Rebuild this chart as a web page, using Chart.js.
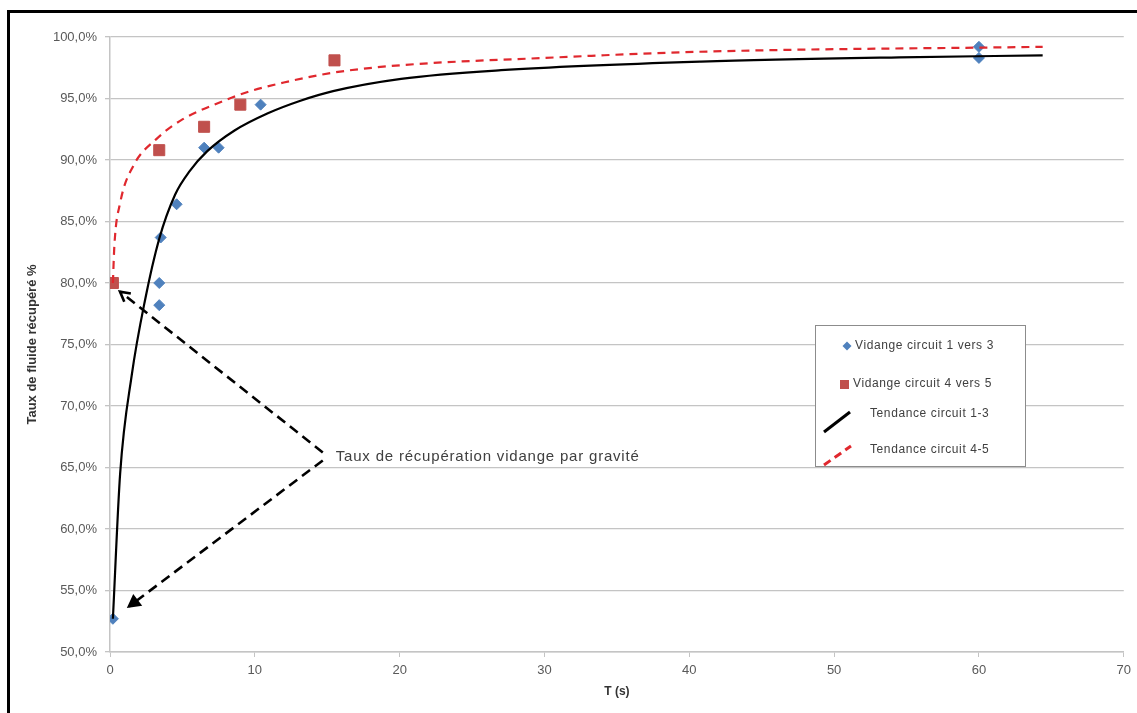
<!DOCTYPE html>
<html>
<head>
<meta charset="utf-8">
<title>Taux de récupération</title>
<script src="https://cdn.jsdelivr.net/npm/chart.js@4.4.0/dist/chart.umd.min.js"></script>
<style>
    body { margin: 0; background: #fff; }
    #wrap { position: relative; width: 1137px; height: 713px; }
</style>
</head>
<body>
<div id="wrap"><canvas id="recupChart" width="1137" height="713"></canvas></div>
<script>
// measured points (T in s, rate in %)
const circuit13T    = [0.2, 3.4, 3.4, 3.5, 4.6, 6.5, 7.5, 10.4, 60, 60];
const circuit13Rate = [52.7, 78.2, 80.0, 83.7, 86.4, 91.0, 91.0, 94.5, 99.2, 98.3];

const circuit45T    = [0.2, 3.4, 6.5, 9.0, 15.5];
const circuit45Rate = [80.0, 90.8, 92.7, 94.5, 98.1];

// trend curves
const trend13T    = [0.2, 0.7, 1.5, 2.4, 3.4, 4.5, 5.5, 6.7, 8.6, 10.9, 13.1, 15.4, 20.1, 27, 40.8, 54.5, 64.4];
const trend13Rate = [52.7, 64.5, 72.5, 78.5, 83.6, 87.2, 89.1, 90.7, 92.4, 93.8, 94.8, 95.6, 96.6, 97.3, 98.0, 98.35, 98.5];

const trend45T    = [0.2, 0.3, 0.7, 1.6, 3.2, 5.0, 7.4, 9.7, 12, 15.4, 20, 30, 40.7, 64.4];
const trend45Rate = [80.0, 83.0, 86.5, 89.5, 91.7, 93.3, 94.6, 95.6, 96.3, 97.1, 97.7, 98.3, 98.8, 99.2];

const legendLabels = ["Vidange circuit 1 vers 3", "Vidange circuit 4 vers 5", "Tendance circuit 1-3", "Tendance circuit 4-5"];
const annotationText = "Taux de récupération vidange par gravité";
const xTitle = "T (s)";
const yTitle = "Taux de fluide récupéré %";

const BLUE = "#4f81bd", RED = "#c0504d", TREND_RED = "#e0282e";
const GRID = "#c4c4c4", LABEL = "#595959";

const toXY = (xs, ys) => xs.map((x, i) => ({ x: x, y: ys[i] }));

Chart.defaults.font.family = "'Liberation Sans', Arial, sans-serif";

// black frame (top + left) like the scanned figure
const framePlugin = {
    id: "frame",
    afterDraw(chart) {
        const ctx = chart.ctx;
        ctx.save();
        ctx.fillStyle = "#000";
        ctx.fillRect(7, 10, 3, 713);
        ctx.fillRect(7, 10, 1130, 3);
        ctx.restore();
    }
};

function arrow(ctx, x1, y1, x2, y2, filled) {
    ctx.save();
    ctx.strokeStyle = "#000";
    ctx.fillStyle = "#000";
    ctx.lineWidth = 2.6;
    ctx.setLineDash([10, 6]);
    ctx.beginPath();
    ctx.moveTo(x1, y1);
    ctx.lineTo(x2, y2);
    ctx.stroke();
    ctx.setLineDash([]);
    const a = Math.atan2(y2 - y1, x2 - x1);
    const len = 11;
    ctx.beginPath();
    ctx.moveTo(x2 - len * Math.cos(a - 0.5), y2 - len * Math.sin(a - 0.5));
    ctx.lineTo(x2, y2);
    ctx.lineTo(x2 - len * Math.cos(a + 0.5), y2 - len * Math.sin(a + 0.5));
    if (filled) { ctx.closePath(); ctx.fill(); }
    ctx.stroke();
    ctx.restore();
}

// the "Taux de récupération..." callout with its two dashed arrows
const annotationPlugin = {
    id: "callout",
    afterDatasetsDraw(chart) {
        const { ctx, scales: { x, y } } = chart;
        const vx = x.getPixelForValue(14.83), vy = y.getPixelForValue(65.9);
        arrow(ctx, vx - 2, vy - 4, x.getPixelForValue(0.69), y.getPixelForValue(79.3), false);
        arrow(ctx, vx - 2, vy + 4, x.getPixelForValue(1.31), y.getPixelForValue(53.7), true);
        ctx.save();
        ctx.fillStyle = "#404040";
        ctx.font = "15px 'Liberation Sans', Arial, sans-serif";
        ctx.letterSpacing = "0.8px";
        ctx.textBaseline = "middle";
        ctx.fillText(annotationText, vx + 11, vy);
        ctx.restore();
    }
};

// Excel-like legend box inside the plot
const legendPlugin = {
    id: "excelLegend",
    afterDraw(chart) {
        const ctx = chart.ctx;
        ctx.save();
        ctx.fillStyle = "#fff";
        ctx.fillRect(815, 325, 210, 141);
        ctx.strokeStyle = "#8c8c8c";
        ctx.lineWidth = 1;
        ctx.strokeRect(815.5, 325.5, 210, 141);

        Chart.helpers.drawPoint(ctx, { pointStyle: "rectRot", radius: 4.5, rotation: 0 }, 847, 346);
        ctx.fillStyle = BLUE;
        ctx.fill();
        ctx.fillStyle = RED;
        ctx.fillRect(840, 380, 9, 9);

        ctx.strokeStyle = "#000";
        ctx.lineWidth = 3;
        ctx.beginPath(); ctx.moveTo(824, 432); ctx.lineTo(850, 412); ctx.stroke();
        ctx.strokeStyle = TREND_RED;
        ctx.setLineDash([8, 5]);
        ctx.beginPath(); ctx.moveTo(824, 465); ctx.lineTo(851, 446); ctx.stroke();
        ctx.setLineDash([]);

        ctx.fillStyle = "#404040";
        ctx.font = "12px 'Liberation Sans', Arial, sans-serif";
        ctx.letterSpacing = "0.6px";
        ctx.textBaseline = "middle";
        ctx.fillText(legendLabels[0], 855, 346);
        ctx.fillText(legendLabels[1], 853, 384);
        ctx.fillText(legendLabels[2], 870, 414);
        ctx.fillText(legendLabels[3], 870, 450);
        ctx.restore();
    }
};

new Chart(document.getElementById("recupChart"), {
    type: "scatter",
    data: {
        datasets: [
            {
                label: legendLabels[2],
                data: toXY(trend13T, trend13Rate),
                showLine: true,
                borderColor: "#000",
                borderWidth: 2.2,
                pointRadius: 0,
                cubicInterpolationMode: "monotone",
                order: 0
            },
            {
                label: legendLabels[3],
                data: toXY(trend45T, trend45Rate),
                showLine: true,
                borderColor: TREND_RED,
                borderWidth: 2.2,
                borderDash: [8, 6],
                pointRadius: 0,
                cubicInterpolationMode: "monotone",
                order: 0
            },
            {
                label: legendLabels[0],
                data: toXY(circuit13T, circuit13Rate),
                pointStyle: "rectRot",
                pointRadius: 5.5,
                backgroundColor: BLUE,
                borderColor: BLUE,
                borderWidth: 1,
                order: 1
            },
            {
                label: legendLabels[1],
                data: toXY(circuit45T, circuit45Rate),
                pointStyle: "rect",
                pointRadius: 7.8,
                backgroundColor: RED,
                borderColor: RED,
                borderWidth: 1,
                order: 1
            }
        ]
    },
    options: {
        responsive: false,
        animation: false,
        layout: { padding: { left: 0, right: 12, top: 37, bottom: 0 } },
        plugins: { legend: { display: false }, tooltip: { enabled: false } },
        scales: {
            x: {
                type: "linear",
                min: 0, max: 70,
                afterFit: (s) => { s.height = 61; },
                ticks: { stepSize: 10, color: LABEL, font: { size: 13 }, padding: 6 },
                grid: { drawOnChartArea: false, drawTicks: true, tickLength: 5, color: GRID },
                border: { color: GRID, width: 1.5 },
                title: { display: true, text: xTitle, color: "#333", font: { size: 12, weight: "bold" }, padding: { bottom: 14 } }
            },
            y: {
                min: 50, max: 100,
                afterFit: (s) => { s.width = 110; },
                ticks: {
                    stepSize: 5, color: LABEL, font: { size: 13 }, padding: 8,
                    callback: (v) => v.toFixed(1).replace(".", ",") + "%"
                },
                grid: { color: GRID, lineWidth: 1.3, tickLength: 5 },
                border: { color: GRID, width: 1.5 },
                title: { display: true, text: yTitle, color: "#333", font: { size: 13, weight: "bold" }, padding: { top: 25 } }
            }
        }
    },
    plugins: [annotationPlugin, legendPlugin, framePlugin]
});
</script>
</body>
</html>
